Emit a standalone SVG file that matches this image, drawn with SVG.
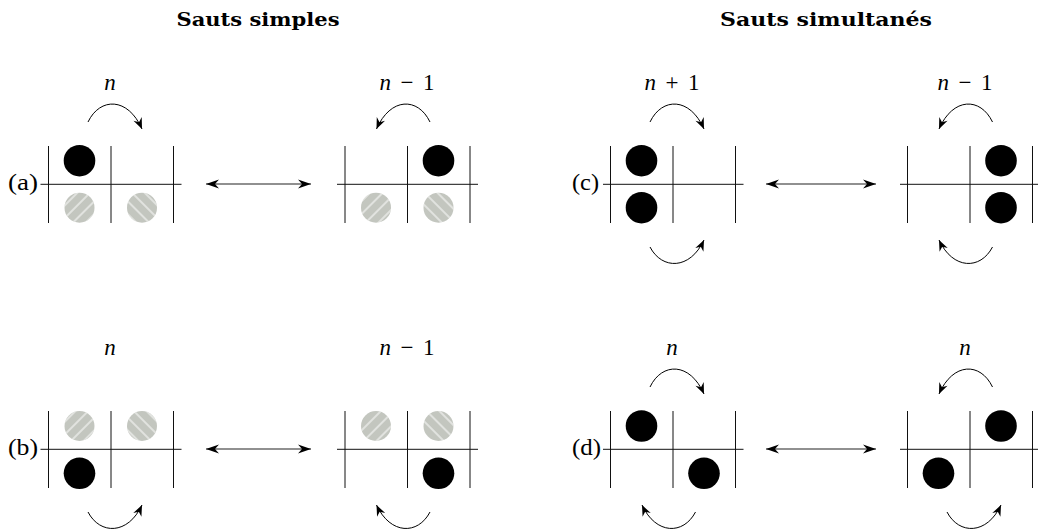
<svg xmlns="http://www.w3.org/2000/svg" width="1038" height="530" viewBox="0 0 1038 530">
<style>
.g{stroke:#111;stroke-width:1;fill:none}
.blk{fill:#000}
.hg{fill:#c3c6bf}
.arc{stroke:#000;stroke-width:1;fill:none;marker-end:url(#ah)}
.dbl{stroke:#222;stroke-width:1.2;fill:none;marker-start:url(#dh);marker-end:url(#dh)}
.lab{font-family:"Liberation Serif","Times New Roman",serif;font-size:24px;fill:#000}
.math{font-family:"Liberation Serif","Times New Roman",serif;font-size:23px;fill:#000;text-anchor:middle}
.title{font-family:"DejaVu Serif","Liberation Serif",serif;font-weight:bold;font-size:18px;fill:#000;text-anchor:middle}
</style>
<defs>
<marker id="ah" viewBox="-12 -6 13 12" refX="0" refY="0" markerWidth="13" markerHeight="12" markerUnits="userSpaceOnUse" orient="auto">
<path d="M0,0 L-11,-4.5 L-7.5,0 L-11,4.5 Z" fill="#000"/>
</marker>
<marker id="dh" viewBox="-14 -6 15 12" refX="0" refY="0" markerWidth="15" markerHeight="12" markerUnits="userSpaceOnUse" orient="auto-start-reverse">
<path d="M0,0 L-13,-4.5 L-9,0 L-13,4.5 Z" fill="#000"/>
</marker>
<pattern id="hL" width="9" height="9" patternUnits="userSpaceOnUse" patternTransform="rotate(45)">
<line x1="2" y1="0" x2="2" y2="9" stroke="#fff" stroke-width="1"/>
</pattern>
<pattern id="hR" width="9" height="9" patternUnits="userSpaceOnUse" patternTransform="rotate(-45)">
<line x1="2" y1="0" x2="2" y2="9" stroke="#fff" stroke-width="1"/>
</pattern>
</defs>
<rect width="1038" height="530" fill="#fff"/>

<text class="title" x="258" y="26" textLength="163" lengthAdjust="spacingAndGlyphs">Sauts simples</text>
<text class="title" x="826" y="26" textLength="212" lengthAdjust="spacingAndGlyphs">Sauts simultanés</text>

<!-- (a) left -->
<g id="a-left">
<text class="lab" x="8" y="190" textLength="30" lengthAdjust="spacingAndGlyphs">(a)</text>
<text class="math" x="110" y="90"><tspan font-style="italic">n</tspan></text>
<line class="g" x1="48.5" y1="146" x2="48.5" y2="223"/>
<line class="g" x1="111" y1="146" x2="111" y2="223"/>
<line class="g" x1="173.5" y1="146" x2="173.5" y2="223"/>
<line class="g" x1="40.5" y1="184.3" x2="181.5" y2="184.3"/>
<circle class="blk" cx="79.5" cy="160.7" r="15.8"/>
<circle class="hg" cx="79.5" cy="207.7" r="15"/><circle fill="url(#hL)" cx="79.5" cy="207.7" r="15"/>
<circle class="hg" cx="142" cy="207.7" r="15"/><circle fill="url(#hR)" cx="142" cy="207.7" r="15"/>
<path class="arc" d="M88,122 C100,97 128,97 142,129"/>
</g>

<!-- (a) right -->
<g id="a-right">
<text class="math" x="407" y="90" textLength="55" lengthAdjust="spacing"><tspan font-style="italic">n</tspan> − 1</text>
<line class="g" x1="345" y1="146" x2="345" y2="223"/>
<line class="g" x1="407.5" y1="146" x2="407.5" y2="223"/>
<line class="g" x1="470" y1="146" x2="470" y2="223"/>
<line class="g" x1="337" y1="184.3" x2="478" y2="184.3"/>
<circle class="blk" cx="438.5" cy="160.7" r="15.8"/>
<circle class="hg" cx="376" cy="207.7" r="15"/><circle fill="url(#hL)" cx="376" cy="207.7" r="15"/>
<circle class="hg" cx="438.5" cy="207.7" r="15"/><circle fill="url(#hR)" cx="438.5" cy="207.7" r="15"/>
<path class="arc" d="M430,122 C418,97 390.5,97 376.5,129"/>
</g>

<!-- (c) left -->
<g id="c-left">
<text class="lab" x="572" y="190" textLength="27" lengthAdjust="spacingAndGlyphs">(c)</text>
<text class="math" x="672" y="90" textLength="55" lengthAdjust="spacing"><tspan font-style="italic">n</tspan> + 1</text>
<line class="g" x1="610.5" y1="146" x2="610.5" y2="223"/>
<line class="g" x1="673" y1="146" x2="673" y2="223"/>
<line class="g" x1="735.5" y1="146" x2="735.5" y2="223"/>
<line class="g" x1="603" y1="184.3" x2="743.5" y2="184.3"/>
<circle class="blk" cx="641.5" cy="160.7" r="15.8"/>
<circle class="blk" cx="641.5" cy="207.7" r="15.8"/>
<path class="arc" d="M650,122 C662,97 690,97 704,129"/>
<path class="arc" d="M650,247 C662,270 690,270 704,240"/>
</g>

<!-- (c) right -->
<g id="c-right">
<text class="math" x="965" y="90" textLength="55" lengthAdjust="spacing"><tspan font-style="italic">n</tspan> − 1</text>
<line class="g" x1="907.5" y1="146" x2="907.5" y2="223"/>
<line class="g" x1="970" y1="146" x2="970" y2="223"/>
<line class="g" x1="1032.5" y1="146" x2="1032.5" y2="223"/>
<line class="g" x1="900" y1="184.3" x2="1038" y2="184.3"/>
<circle class="blk" cx="1001" cy="160.7" r="15.8"/>
<circle class="blk" cx="1001" cy="207.7" r="15.8"/>
<path class="arc" d="M992.5,122 C980.5,97 953,97 939,129"/>
<path class="arc" d="M992.5,247 C980.5,270 953,270 939,240"/>
</g>

<!-- (b) left -->
<g id="b-left">
<text class="lab" x="8" y="455" textLength="30" lengthAdjust="spacingAndGlyphs">(b)</text>
<text class="math" x="110" y="355"><tspan font-style="italic">n</tspan></text>
<line class="g" x1="48.5" y1="411" x2="48.5" y2="488"/>
<line class="g" x1="111" y1="411" x2="111" y2="488"/>
<line class="g" x1="173.5" y1="411" x2="173.5" y2="488"/>
<line class="g" x1="40.5" y1="449.3" x2="181.5" y2="449.3"/>
<circle class="hg" cx="79.5" cy="426" r="15"/><circle fill="url(#hL)" cx="79.5" cy="426" r="15"/>
<circle class="hg" cx="142" cy="426" r="15"/><circle fill="url(#hR)" cx="142" cy="426" r="15"/>
<circle class="blk" cx="79.5" cy="473.3" r="15.8"/>
<path class="arc" d="M88,512 C100,535 128,535 142,505"/>
</g>

<!-- (b) right -->
<g id="b-right">
<text class="math" x="407" y="355" textLength="55" lengthAdjust="spacing"><tspan font-style="italic">n</tspan> − 1</text>
<line class="g" x1="345" y1="411" x2="345" y2="488"/>
<line class="g" x1="407.5" y1="411" x2="407.5" y2="488"/>
<line class="g" x1="470" y1="411" x2="470" y2="488"/>
<line class="g" x1="337" y1="449.3" x2="478" y2="449.3"/>
<circle class="hg" cx="376" cy="426" r="15"/><circle fill="url(#hL)" cx="376" cy="426" r="15"/>
<circle class="hg" cx="438.5" cy="426" r="15"/><circle fill="url(#hR)" cx="438.5" cy="426" r="15"/>
<circle class="blk" cx="438.5" cy="473.3" r="15.8"/>
<path class="arc" d="M430,512 C418,535 390.5,535 376.5,505"/>
</g>

<!-- (d) left -->
<g id="d-left">
<text class="lab" x="572" y="455" textLength="29" lengthAdjust="spacingAndGlyphs">(d)</text>
<text class="math" x="672" y="355"><tspan font-style="italic">n</tspan></text>
<line class="g" x1="610.5" y1="411" x2="610.5" y2="488"/>
<line class="g" x1="673" y1="411" x2="673" y2="488"/>
<line class="g" x1="735.5" y1="411" x2="735.5" y2="488"/>
<line class="g" x1="603" y1="449.3" x2="743.5" y2="449.3"/>
<circle class="blk" cx="641.5" cy="426" r="15.8"/>
<circle class="blk" cx="704" cy="473.3" r="15.8"/>
<path class="arc" d="M650,387 C662,362 690,362 704,394"/>
<path class="arc" d="M695.5,512 C683.5,535 656,535 642,505"/>
</g>

<!-- (d) right -->
<g id="d-right">
<text class="math" x="965" y="355"><tspan font-style="italic">n</tspan></text>
<line class="g" x1="907.5" y1="411" x2="907.5" y2="488"/>
<line class="g" x1="970" y1="411" x2="970" y2="488"/>
<line class="g" x1="1032.5" y1="411" x2="1032.5" y2="488"/>
<line class="g" x1="900" y1="449.3" x2="1038" y2="449.3"/>
<circle class="blk" cx="1001" cy="426" r="15.8"/>
<circle class="blk" cx="938.5" cy="473.3" r="15.8"/>
<path class="arc" d="M992.5,387 C980.5,362 953,362 939,394"/>
<path class="arc" d="M947,512 C959,535 987,535 1001,505"/>
</g>

<g id="connectors">
<line class="dbl" x1="206" y1="184" x2="311" y2="184"/>
<line class="dbl" x1="766" y1="184" x2="876" y2="184"/>
<line class="dbl" x1="206" y1="449" x2="311" y2="449"/>
<line class="dbl" x1="766" y1="449" x2="876" y2="449"/>
</g>
</svg>
